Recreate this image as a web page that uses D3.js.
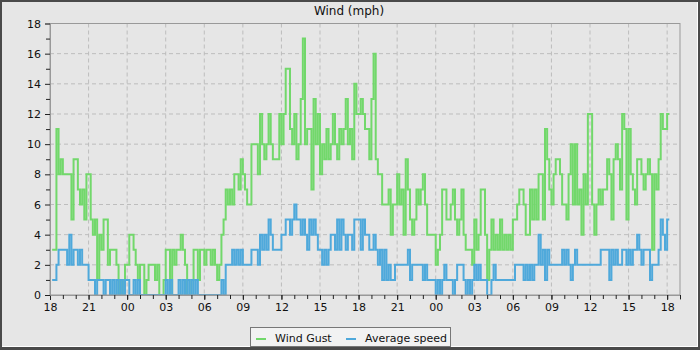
<!DOCTYPE html>
<html>
<head>
<meta charset="utf-8">
<script src="https://cdn.jsdelivr.net/npm/d3@7"></script>
<style>
  html, body { margin: 0; padding: 0; background: #4a4a4a; }
  svg { display: block; font-family: "DejaVu Sans", sans-serif; }
</style>
</head>
<body>
<div class="chart"></div>
<script>
// DATA ------------------------------------
// readings every 10 minutes, first one at 18:10 on day one
const title = "Wind (mph)";
const seriesNames = ["Wind Gust", "Average speed"];
const seriesColors = ["#72d86b", "#4fa9db"];
const yTicks = [0, 2, 4, 6, 8, 10, 12, 14, 16, 18];

const gust = [
      3,3,11,8,9,      // 18
  8,8,8,8,5,9,         // 19
  9,7,6,7,5,8,         // 20
  8,5,4,5,1,4,         // 21
  3,5,5,2,3,3,         // 22
  3,2,0,1,0,2,         // 23
  2,4,4,3,2,1,         // 00
  2,2,0,1,2,2,         // 01
  2,1,2,0,0,1,         // 02
  3,3,0,3,2,3,         // 03
  3,4,3,2,0,0,         // 04
  1,3,3,1,3,3,         // 05
  2,3,3,2,3,2,         // 06
  1,2,4,5,7,6,         // 07
  7,6,8,8,7,9,         // 08
  8,7,6,6,10,10,       // 09
  10,8,12,10,9,10,     // 10
  12,10,9,9,9,12,      // 11
  10,12,15,15,11,10,   // 12
  12,9,10,13,17,10,    // 13
  11,11,7,13,10,12,    // 14
  8,10,9,11,9,10,      // 15
  12,10,9,11,10,11,    // 16
  13,10,11,9,14,12,    // 17
  12,13,12,11,11,9,    // 18
  13,16,9,8,8,6,       // 19
  6,6,7,4,6,6,         // 20
  8,6,7,4,9,7,         // 21
  5,4,5,7,6,7,         // 22
  8,6,4,4,4,4,         // 23
  2,3,4,7,7,5,         // 00
  5,6,7,5,4,5,         // 01
  7,4,3,3,3,2,         // 02
  5,3,4,7,7,4,         // 03
  1,3,5,3,4,3,         // 04
  5,3,4,3,4,3,         // 05
  5,5,6,7,7,6,         // 06
  4,4,7,5,7,5,         // 07
  8,8,5,11,9,7,        // 08
  6,8,9,9,8,6,         // 09
  6,5,8,10,6,10,       // 10
  6,7,4,8,6,12,        // 11
  12,6,4,6,7,6,        // 12
  7,7,9,8,5,9,         // 13
  10,9,7,12,11,5,      // 14
  11,8,7,6,9,9,        // 15
  8,7,8,9,8,3,         // 16
  8,7,9,12,11,11,      // 17
  12,12                // 18
];

const average = [
      1,1,2,3,3,       // 18
  3,3,2,4,2,3,         // 19
  3,2,3,2,2,2,         // 20
  1,1,1,0,1,1,         // 21
  1,0,1,1,0,1,         // 22
  0,1,0,1,0,1,         // 23
  1,0,0,1,0,1,         // 00
  0,0,0,0,0,0,         // 01
  0,0,0,0,0,0,         // 02
  1,0,1,0,0,0,         // 03
  1,0,1,0,1,0,         // 04
  1,0,1,0,0,0,         // 05
  0,0,0,0,0,0,         // 06
  0,0,1,0,2,2,         // 07
  2,3,2,3,2,3,         // 08
  2,2,2,2,3,3,         // 09
  3,2,4,3,4,3,         // 10
  5,4,3,3,3,3,         // 11
  4,4,5,5,4,5,         // 12
  6,5,5,4,5,4,         // 13
  3,5,4,5,4,3,         // 14
  3,2,3,2,3,4,         // 15
  4,3,5,3,5,4,         // 16
  3,4,4,3,5,5,         // 17
  5,3,5,4,4,3,         // 18
  3,4,3,2,3,1,         // 19
  3,1,2,1,1,2,         // 20
  2,2,2,2,2,3,         // 21
  1,2,2,2,2,2,         // 22
  1,2,1,1,1,1,         // 23
  0,1,0,1,2,1,         // 00
  1,1,0,1,2,2,         // 01
  2,1,0,1,0,1,         // 02
  2,1,2,1,1,1,         // 03
  0,0,1,2,1,1,         // 04
  1,1,1,1,1,1,         // 05
  1,2,2,2,2,1,         // 06
  2,1,2,1,2,2,         // 07
  4,2,3,1,3,2,         // 08
  2,2,2,2,2,3,         // 09
  2,3,2,1,2,3,         // 10
  2,2,2,2,2,2,         // 11
  2,2,2,2,2,3,         // 12
  3,3,3,1,3,2,         // 13
  3,2,2,3,3,2,         // 14
  3,2,3,3,4,3,         // 15
  2,3,3,3,1,2,         // 16
  2,2,3,5,4,3,         // 17
  5,5                  // 18
];

const startTime = new Date(2024, 0, 1, 18, 10);
const domainStart = new Date(2024, 0, 1, 18, 0);
const domainEnd = new Date(2024, 0, 3, 19, 0);
const stepMinutes = 10;

// CHART INIT ------------------------------
const W = 700, H = 350;
const plot = {left: 50, right: 680, top: 23.5, bottom: 295};

const svg = d3.select(".chart")
  .append("svg")
  .attr("width", W)
  .attr("height", H);

// frame
svg.append("rect").attr("width", W).attr("height", H).attr("fill", "#4a4a4a");
svg.append("rect").attr("x", 2).attr("y", 2).attr("width", 696).attr("height", 345).attr("fill", "#ffffff");
svg.append("rect").attr("x", 2).attr("y", 2).attr("width", 695).attr("height", 344).attr("fill", "#e6e6e6");

const xScale = d3.scaleTime()
  .domain([domainStart, domainEnd])
  .range([plot.left, plot.right]);
const yScale = d3.scaleLinear()
  .domain([0, 18])
  .range([plot.bottom, plot.top]);

const timeOf = i => d3.timeMinute.offset(startTime, i * stepMinutes);

// grid
const majorHours = d3.timeHour.every(3).range(domainStart, domainEnd);
svg.append("g")
  .selectAll("line")
  .data(majorHours.slice(1))
  .join("line")
  .attr("x1", d => xScale(d)).attr("x2", d => xScale(d))
  .attr("y1", plot.top).attr("y2", plot.bottom)
  .attr("stroke", "#bdbdbd").attr("stroke-dasharray", "4,3");
svg.append("g")
  .selectAll("line")
  .data(yTicks.slice(1, -1))
  .join("line")
  .attr("x1", plot.left).attr("x2", plot.right)
  .attr("y1", d => yScale(d)).attr("y2", d => yScale(d))
  .attr("stroke", "#bdbdbd").attr("stroke-dasharray", "4,3");

// lines
svg.append("clipPath").attr("id", "clip")
  .append("rect")
  .attr("x", plot.left).attr("y", plot.top)
  .attr("width", plot.right - plot.left).attr("height", plot.bottom - plot.top);

const line = d3.line()
  .x((d, i) => xScale(timeOf(i)))
  .y(d => yScale(d))
  .curve(d3.curveStepAfter);

[gust, average].forEach((s, k) => {
  svg.append("path")
    .datum(s)
    .attr("clip-path", "url(#clip)")
    .attr("fill", "none")
    .attr("stroke", seriesColors[k])
    .attr("stroke-width", 2)
    .attr("d", line);
});

// plot border
svg.append("rect")
  .attr("x", plot.left).attr("y", plot.top)
  .attr("width", plot.right - plot.left).attr("height", plot.bottom - plot.top)
  .attr("fill", "none").attr("stroke", "#999");

// axes
const xAxis = d3.axisBottom(xScale)
  .ticks(d3.timeHour.every(3))
  .tickFormat(d3.timeFormat("%H"))
  .tickSize(5).tickPadding(3);
const gx = svg.append("g")
  .attr("transform", `translate(0,${plot.bottom})`)
  .call(xAxis);
svg.append("g")
  .attr("transform", `translate(0,${plot.bottom})`)
  .call(d3.axisBottom(xScale).ticks(d3.timeHour.every(1)).tickFormat("").tickSize(4))
  .select(".domain").remove();

const yAxis = d3.axisLeft(yScale)
  .tickValues(yTicks)
  .tickSize(5).tickPadding(4);
const gy = svg.append("g")
  .attr("transform", `translate(${plot.left},0)`)
  .call(yAxis);
svg.append("g")
  .attr("transform", `translate(${plot.left},0)`)
  .call(d3.axisLeft(yScale).tickValues(d3.range(1, 18, 2)).tickFormat("").tickSize(4))
  .select(".domain").remove();

svg.selectAll(".domain").attr("stroke", "#999");
svg.selectAll(".tick line").attr("stroke", "#222");
svg.selectAll(".tick text")
  .attr("font-family", "DejaVu Sans, sans-serif")
  .attr("font-size", 11)
  .attr("fill", "#111");

// title
svg.append("text")
  .attr("x", 349).attr("y", 15)
  .attr("text-anchor", "middle")
  .attr("font-size", 12)
  .attr("fill", "#111")
  .text(title);

// legend
const legend = svg.append("g");
legend.append("rect")
  .attr("x", 250.5).attr("y", 327.5)
  .attr("width", 200).attr("height", 19)
  .attr("fill", "#f2f2f2").attr("stroke", "#777");
const legendX = [256, 346];
seriesNames.forEach((name, k) => {
  legend.append("line")
    .attr("x1", legendX[k]).attr("x2", legendX[k] + 10)
    .attr("y1", 339).attr("y2", 339)
    .attr("stroke", seriesColors[k]).attr("stroke-width", 2);
  legend.append("text")
    .attr("x", legendX[k] + 19).attr("y", 341.5)
    .attr("font-size", 11)
    .attr("fill", "#111")
    .text(name);
});
</script>
</body>
</html>
